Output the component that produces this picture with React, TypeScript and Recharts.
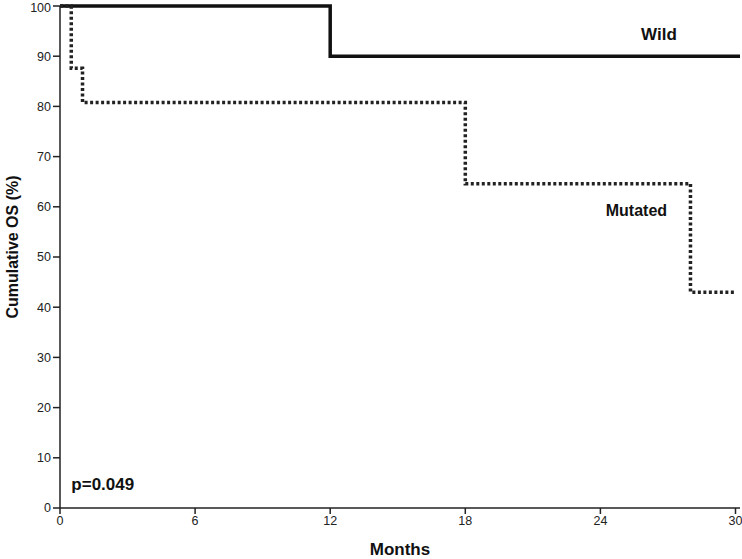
import React from 'react'
import { LineChart, Line, XAxis, YAxis, ReferenceDot } from 'recharts'

// Kaplan-Meier steps (months, cumulative OS %)
const wildMonths = [0, 12, 30.2]
const wildOS = [100, 90, 90]

const mutatedMonths = [0, 0.5, 1, 18, 28, 30]
const mutatedOS = [100, 87.6, 80.8, 64.6, 43, 43]

const xTicks = [0, 6, 12, 18, 24, 30]
const yTicks = [0, 10, 20, 30, 40, 50, 60, 70, 80, 90, 100]

const wild = wildMonths.map((m, i) => ({ m, os: wildOS[i] }))
const mutated = mutatedMonths.map((m, i) => ({ m, os: mutatedOS[i] }))

const font = 'Liberation Sans, Arial, sans-serif'
const tickStyle = { fill: '#222', fontSize: 12.5, fontFamily: font }

const note = (text: string, size: number) => ({
  value: text,
  position: 'center' as const,
  fill: '#111',
  fontSize: size,
  fontWeight: 700,
  fontFamily: font,
})

export default function App() {
  return (
    <div style={{ position: 'absolute', left: 0, top: 0, background: '#fff' }}>
      <LineChart width={742} height={559} margin={{ top: 6, right: 2, bottom: 0, left: 0 }}>
        <XAxis
          type="number"
          dataKey="m"
          domain={[0, 30.2]}
          ticks={xTicks}
          allowDuplicatedCategory={false}
          height={51}
          tickSize={6}
          tick={tickStyle}
          stroke="#222"
          strokeWidth={1.5}
          label={{ value: 'Months', position: 'insideBottom', offset: 0, fill: '#111', fontSize: 17, fontWeight: 700, fontFamily: font, dy: -4 }}
        />
        <YAxis
          type="number"
          dataKey="os"
          domain={[0, 100]}
          ticks={yTicks}
          width={60}
          tickSize={7}
          tick={tickStyle}
          stroke="#222"
          strokeWidth={1.5}
          label={{ value: 'Cumulative OS (%)', angle: -90, position: 'center', dx: -18, dy: -10, fill: '#111', fontSize: 16, fontWeight: 700, fontFamily: font }}
        />
        <Line
          data={wild}
          dataKey="os"
          type="stepAfter"
          stroke="#111"
          strokeWidth={3.5}
          dot={false}
          isAnimationActive={false}
        />
        <Line
          data={mutated}
          dataKey="os"
          type="stepAfter"
          stroke="#222"
          strokeWidth={3.5}
          strokeDasharray="3 2.5"
          dot={false}
          isAnimationActive={false}
        />
        <ReferenceDot x={26.6} y={94.4} r={0} fill="none" stroke="none" label={note('Wild', 17)} />
        <ReferenceDot x={25.6} y={59.2} r={0} fill="none" stroke="none" label={note('Mutated', 16)} />
        <ReferenceDot x={1.9} y={4.8} r={0} fill="none" stroke="none" label={note('p=0.049', 17)} />
      </LineChart>
    </div>
  )
}
